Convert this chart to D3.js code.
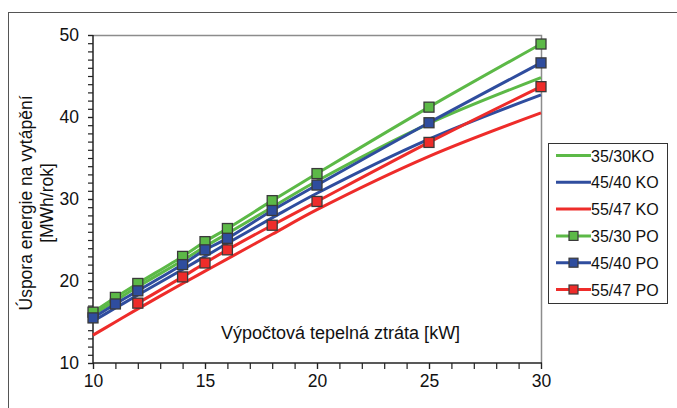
<!DOCTYPE html>
<html>
<head>
<meta charset="utf-8">
<script src="https://cdn.jsdelivr.net/npm/d3@7"></script>
<style>
  html, body { margin: 0; padding: 0; background: #fff; }
  svg { display: block; font-family: "Liberation Sans", Arial, sans-serif; }
</style>
</head>
<body>
<svg id="chart" width="677" height="408"></svg>
<script>
// Heat loss of the building [kW]
const heatLoss = [10, 11, 12, 14, 15, 16, 18, 20, 25, 30];
const heatLossRed = [12, 14, 15, 16, 18, 20, 25, 30];

// Energy savings [MWh/year], KO series (lines only)
const ko3530 = [15.9, 17.6, 19.3, 22.5, 24.2, 25.8, 29.0, 32.2, 39.2, 44.8];
const ko4540 = [15.1, 16.7, 18.3, 21.4, 23.0, 24.6, 27.7, 30.7, 37.3, 42.7];
const ko5547 = [13.4, 15.0, 16.6, 19.7, 21.2, 22.7, 25.7, 28.7, 35.2, 40.5];

// Energy savings [MWh/year], PO series (lines with square markers)
const po3530 = [16.2, 18.0, 19.7, 23.0, 24.8, 26.4, 29.8, 33.1, 41.2, 48.9];
const po4540 = [15.5, 17.2, 18.8, 22.0, 23.8, 25.2, 28.6, 31.7, 39.3, 46.6];
const po5547 = [17.3, 20.5, 22.2, 23.8, 26.8, 29.7, 36.9, 43.7];

const xTicks = [10, 15, 20, 25, 30];
const yTicks = [10, 20, 30, 40, 50];

const seriesNames = ["35/30KO", "45/40 KO", "55/47 KO", "35/30 PO", "45/40 PO", "55/47 PO"];

const GREEN = "#5cb947", BLUE = "#2f4d9e", RED = "#ee2c2a";

const series = [
  { name: seriesNames[0], xs: heatLoss, ys: ko3530, color: GREEN, marker: false },
  { name: seriesNames[1], xs: heatLoss, ys: ko4540, color: BLUE, marker: false },
  { name: seriesNames[2], xs: heatLoss, ys: ko5547, color: RED, marker: false },
  { name: seriesNames[3], xs: heatLoss, ys: po3530, color: GREEN, marker: true },
  { name: seriesNames[4], xs: heatLoss, ys: po4540, color: BLUE, marker: true },
  { name: seriesNames[5], xs: heatLossRed, ys: po5547, color: RED, marker: true }
];

const svg = d3.select("#chart");

// outer frame
svg.append("rect")
  .attr("x", 8.5).attr("y", 12.5)
  .attr("width", 700).attr("height", 420)
  .attr("fill", "none").attr("stroke", "#555").attr("stroke-width", 1);

const plot = { left: 93, right: 541, top: 35, bottom: 363 };

const x = d3.scaleLinear().domain([10, 30]).range([plot.left, plot.right]);
const y = d3.scaleLinear().domain([10, 50]).range([plot.bottom, plot.top]);

// plot-area border (top and right)
svg.append("path")
  .attr("d", `M${plot.left},${plot.top + 0.5}H${plot.right + 0.5}V${plot.bottom}`)
  .attr("fill", "none").attr("stroke", "#8c8c8c").attr("stroke-width", 1.5);

// axes with minor ticks every unit
const xMinor = d3.range(10, 31, 1);
const yMinor = d3.range(10, 51, 1);

const gx = svg.append("g").attr("transform", `translate(0,${plot.bottom})`);
gx.call(d3.axisBottom(x).tickValues(xMinor).tickSize(6).tickFormat(""));
gx.call(g => g.select(".domain").remove());
gx.append("g").call(d3.axisBottom(x).tickValues(xTicks).tickSize(6).tickPadding(6).tickFormat(d3.format("d")))
  .call(g => g.select(".domain").remove());

const gy = svg.append("g").attr("transform", `translate(${plot.left},0)`);
gy.call(d3.axisLeft(y).tickValues(yMinor).tickSize(5).tickFormat(""));
gy.call(g => g.select(".domain").remove());
gy.append("g").call(d3.axisLeft(y).tickValues(yTicks).tickSize(5).tickPadding(9).tickFormat(d3.format("d")))
  .call(g => g.select(".domain").remove());

svg.selectAll(".tick line").attr("stroke", "#222").attr("stroke-width", 1.2);
svg.selectAll(".tick text").attr("font-size", 17.5).attr("fill", "#111")
  .attr("font-family", "'Liberation Sans', Arial, sans-serif");

// axis lines
svg.append("line").attr("x1", plot.left).attr("x2", plot.right + 1)
  .attr("y1", plot.bottom).attr("y2", plot.bottom)
  .attr("stroke", "#222").attr("stroke-width", 1.5);
svg.append("line").attr("x1", plot.left).attr("x2", plot.left)
  .attr("y1", plot.top).attr("y2", plot.bottom)
  .attr("stroke", "#222").attr("stroke-width", 1.5);

// axis titles
svg.append("text")
  .attr("transform", "translate(32,203) rotate(-90)")
  .attr("text-anchor", "middle").attr("font-size", 17.5).attr("fill", "#111")
  .text("Úspora energie na vytápění");
svg.append("text")
  .attr("transform", "translate(53,203) rotate(-90)")
  .attr("text-anchor", "middle").attr("font-size", 17.5).attr("fill", "#111")
  .text("[MWh/rok]");
svg.append("text")
  .attr("x", 221).attr("y", 339)
  .attr("font-size", 18).attr("fill", "#111")
  .text("Výpočtová tepelná ztráta [kW]");

// series lines
const line = d3.line()
  .x(d => x(d[0])).y(d => y(d[1]))
  .curve(d3.curveCatmullRom.alpha(0.5));

const gLines = svg.append("g");
series.forEach(s => {
  const pts = s.xs.map((v, i) => [v, s.ys[i]]);
  gLines.append("path")
    .datum(pts)
    .attr("d", line)
    .attr("fill", "none")
    .attr("stroke", s.color)
    .attr("stroke-width", 3);
});

// markers
const M = 10;
series.filter(s => s.marker).forEach(s => {
  svg.append("g").selectAll("rect")
    .data(s.xs.map((v, i) => [v, s.ys[i]]))
    .join("rect")
    .attr("x", d => x(d[0]) - M / 2)
    .attr("y", d => y(d[1]) - M / 2)
    .attr("width", M).attr("height", M)
    .attr("fill", s.color)
    .attr("stroke", "#3a3a3a").attr("stroke-width", 1.3);
});

// legend
const lg = svg.append("g").attr("transform", "translate(548,143)");
lg.append("rect").attr("x", 0.5).attr("y", 0.5).attr("width", 119).attr("height", 160)
  .attr("fill", "#fff").attr("stroke", "#333").attr("stroke-width", 1);
series.forEach((s, i) => {
  const cy = 12.5 + i * 26.8;
  lg.append("line").attr("x1", 8).attr("x2", 43).attr("y1", cy).attr("y2", cy)
    .attr("stroke", s.color).attr("stroke-width", 3);
  if (s.marker) {
    lg.append("rect").attr("x", 25.5 - 4.5).attr("y", cy - 4.5).attr("width", 9).attr("height", 9)
      .attr("fill", s.color).attr("stroke", "#3a3a3a").attr("stroke-width", 1.2);
  }
  lg.append("text").attr("x", 43).attr("y", cy + 6).attr("font-size", 16).attr("fill", "#111")
    .text(s.name);
});
</script>
</body>
</html>
